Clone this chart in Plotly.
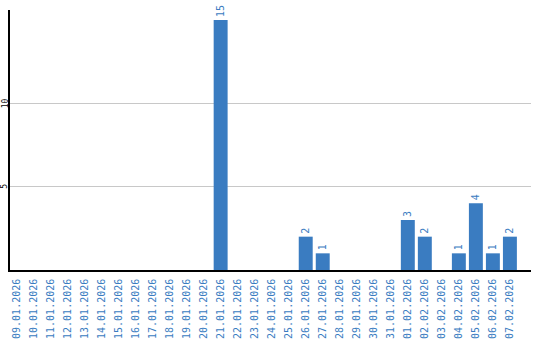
import plotly.graph_objects as go

dates = ["09.01.2026","10.01.2026","11.01.2026","12.01.2026","13.01.2026","14.01.2026",
         "15.01.2026","16.01.2026","17.01.2026","18.01.2026","19.01.2026","20.01.2026",
         "21.01.2026","22.01.2026","23.01.2026","24.01.2026","25.01.2026","26.01.2026",
         "27.01.2026","28.01.2026","29.01.2026","30.01.2026","31.01.2026","01.02.2026",
         "02.02.2026","03.02.2026","04.02.2026","05.02.2026","06.02.2026","07.02.2026"]
values = [0,0,0,0,0,0,0,0,0,0,0,0,15,0,0,0,0,2,1,0,0,0,0,3,2,0,1,4,1,2]
labels = [str(v) if v > 0 else "" for v in values]
y_ticks = [5, 10]

blue = "#3a7cc1"
font = "DejaVu Sans Mono"

fig = go.Figure(go.Bar(
    x=list(range(len(dates))), y=values, text=labels,
    textposition="outside", textangle=-90,
    textfont=dict(family=font, size=10, color=blue),
    marker=dict(color=blue, line=dict(width=0)),
    width=0.82, cliponaxis=False, hoverinfo="skip",
))

for t in y_ticks:
    fig.add_annotation(x=0, xref="paper", y=t, yref="y", text=str(t),
                       textangle=-90, showarrow=False, xanchor="center",
                       yanchor="middle", xshift=-5,
                       font=dict(family=font, size=8, color="black"))

fig.update_layout(
    width=540, height=340,
    margin=dict(l=10, r=9, t=10, b=70),
    plot_bgcolor="white", paper_bgcolor="white",
    showlegend=False,
    xaxis=dict(
        range=[-0.38, 30.24], tickmode="array",
        tickvals=list(range(len(dates))), ticktext=dates,
        tickangle=-90, tickfont=dict(family=font, size=10, color=blue),
        showgrid=False, showline=True, linecolor="black", linewidth=1.5,
        ticks="", zeroline=False, automargin=False, ticklabelstandoff=3,
    ),
    yaxis=dict(
        range=[0, 15.6], tickmode="array", tickvals=y_ticks,
        showticklabels=False,
        showgrid=True, gridcolor="#c8c8c8", gridwidth=1,
        showline=True, linecolor="black", linewidth=1.5,
        ticks="", zeroline=False, automargin=False,
    ),
)

fig.write_html("out.html")
